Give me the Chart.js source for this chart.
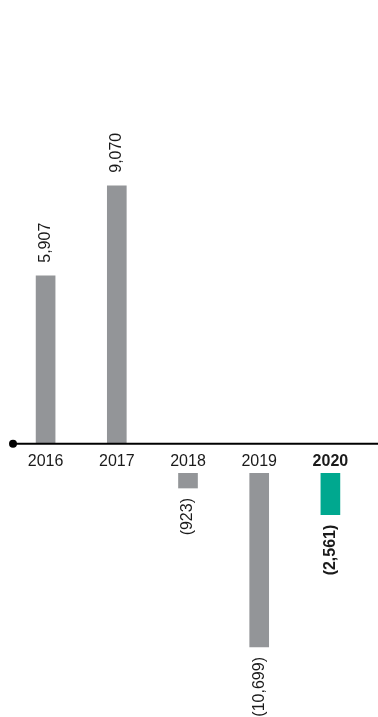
<!DOCTYPE html>
<html>
<head>
<meta charset="utf-8">
<script src="https://cdn.jsdelivr.net/npm/chart.js@4"></script>
<style>
  body { margin: 0; background: #fff; }
  #wrap { position: relative; width: 378px; height: 717px; overflow: hidden; }
  #wrap canvas { position: absolute; left: 0; }
  #upper { top: 0; z-index: 2; }
  #lower { top: 473px; z-index: 1; }
</style>
</head>
<body>
<div id="wrap">
  <canvas id="upper" width="378" height="482"></canvas>
  <canvas id="lower" width="378" height="244"></canvas>
</div>
<script>
// yearly results, negatives shown in brackets
const years = ['2016', '2017', '2018', '2019', '2020'];
const netValues = [5907, 9070, -923, -10699, -2561];
const highlightYear = '2020';

const FAMILY = "'Liberation Sans', Arial, Helvetica, sans-serif";
const GREY = '#939598';
const TEAL = '#00a88f';
const INK = '#1a1a1a';

Chart.defaults.font.family = FAMILY;
Chart.defaults.font.size = 16;
Chart.defaults.color = INK;

function fmt(v) {
  const s = Math.abs(v).toLocaleString('en-US');
  return v < 0 ? '(' + s + ')' : s;
}

const barColors = years.map(y => y === highlightYear ? TEAL : GREY);

// rotated value captions at the end of each bar
const valueLabels = {
  id: 'valueLabels',
  afterDatasetsDraw(chart) {
    const ctx = chart.ctx;
    const data = chart.data.datasets[0].data;
    chart.getDatasetMeta(0).data.forEach((bar, i) => {
      const v = data[i];
      if (v == null) return;
      ctx.save();
      ctx.font = (years[i] === highlightYear ? 'bold ' : '') + '16px ' + FAMILY;
      ctx.fillStyle = INK;
      ctx.textBaseline = 'middle';
      if (v > 0) {
        ctx.translate(bar.x, bar.y - 13);
        ctx.rotate(-Math.PI / 2);
        ctx.textAlign = 'left';
      } else {
        ctx.translate(bar.x, bar.y + 10);
        ctx.rotate(-Math.PI / 2);
        ctx.textAlign = 'right';
      }
      ctx.fillText(fmt(v), 0, 0);
      ctx.restore();
    });
  }
};

// zero line with the round marker on the left
const zeroAxis = {
  id: 'zeroAxis',
  afterDraw(chart) {
    const ctx = chart.ctx;
    const y = chart.scales.y.getPixelForValue(0);
    ctx.save();
    ctx.strokeStyle = '#000';
    ctx.lineWidth = 2;
    ctx.beginPath();
    ctx.moveTo(13, y);
    ctx.lineTo(chart.width, y);
    ctx.stroke();
    ctx.fillStyle = '#000';
    ctx.beginPath();
    ctx.arc(13, y, 4, 0, Math.PI * 2);
    ctx.fill();
    ctx.restore();
  }
};

function barOptions(yMin, yMax, showYears, padBottom) {
  return {
    responsive: false,
    animation: false,
    layout: { padding: { left: 10, right: 12, top: 0, bottom: padBottom } },
    plugins: { legend: { display: false }, tooltip: { enabled: false } },
    scales: {
      x: {
        display: showYears,
        grid: { display: false, drawTicks: false },
        border: { display: false },
        ticks: {
          padding: 8,
          color: INK,
          font: c => ({ size: 16, weight: years[c.index] === highlightYear ? 'bold' : 'normal' })
        }
      },
      y: { display: false, min: yMin, max: yMax }
    }
  };
}

// positive years sit above the axis
new Chart(document.getElementById('upper'), {
  type: 'bar',
  data: {
    labels: years,
    datasets: [{
      data: netValues.map(v => v > 0 ? v : null),
      backgroundColor: barColors,
      barThickness: 19
    }]
  },
  options: barOptions(0, 15600, true, 3),
  plugins: [valueLabels, zeroAxis]
});

// negative years hang below the year labels
new Chart(document.getElementById('lower'), {
  type: 'bar',
  data: {
    labels: years,
    datasets: [{
      data: netValues.map(v => v < 0 ? v : null),
      backgroundColor: barColors,
      barThickness: 19
    }]
  },
  options: barOptions(-15000, 0, false, 0),
  plugins: [valueLabels]
});
</script>
</body>
</html>
